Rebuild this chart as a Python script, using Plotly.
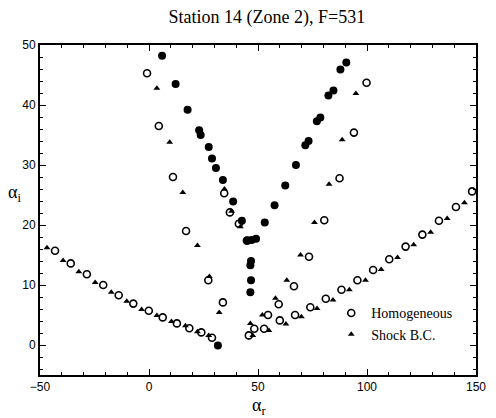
import plotly.graph_objects as go

# Homogeneous (open circles)
hom_x = [-43.1, -35.9, -28.5, -21.0, -13.9, -7.2, -0.1, 6.3, 12.8, 18.5, 24.0, 28.9,
         -0.9, 4.5, 11.0, 17.0, 27.2, 33.9,
         34.5, 37.1, 41.2, 44.9,
         45.8, 48.3, 52.8,
         54.6, 59.5, 66.5, 73.4, 80.4, 87.4, 94.0, 99.8,
         60.0, 67.0, 74.0, 81.1, 88.3, 95.6, 102.8, 110.2, 117.7, 125.4, 133.0, 140.8, 148.2]
hom_y = [15.7, 13.6, 11.8, 10.0, 8.3, 6.9, 5.7, 4.6, 3.6, 2.8, 2.1, 1.2,
         45.3, 36.5, 28.0, 19.0, 10.8, 7.1,
         25.3, 22.1, 20.2, 17.4,
         1.6, 2.7, 2.7,
         5.0, 6.8, 9.8, 14.7, 20.8, 27.8, 35.4, 43.7,
         4.1, 5.0, 6.3, 7.7, 9.2, 10.8, 12.5, 14.3, 16.4, 18.4, 20.7, 23.0, 25.6]

# Shock B.C. (filled triangles)
shk_x = [-46.8, -39.4, -32.2, -24.7, -17.3, -10.2, -3.4, 3.6, 10.3, 16.7, 22.2, 27.4,
         3.6, 9.5, 15.5, 22.2, 27.7, 32.2,
         34.6, 37.9, 41.9,
         46.5, 47.6, 55.0,
         52.0, 58.0, 63.2, 69.5, 75.9, 82.6, 88.6, 94.9,
         62.8, 69.9, 77.1, 84.4, 91.9, 99.3, 106.5, 114.0, 121.4, 129.2, 136.8, 144.7]
shk_y = [16.2, 14.1, 12.2, 10.4, 8.8, 7.3, 5.9, 4.9, 3.9, 3.2, 2.2, 1.6,
         42.8, 33.8, 25.4, 16.6, 11.4, 5.4,
         26.0, 22.3, 19.7,
         3.6, 1.6, 2.4,
         5.0, 7.8, 10.8, 15.0, 20.4, 26.8, 34.2, 41.9,
         3.5, 4.7, 6.1, 7.5, 9.2, 10.8, 12.6, 14.6, 16.7, 18.8, 21.1, 23.7]

# Third set (filled circles, not in legend)
fil_x = [6.0, 12.2, 17.7, 23.0, 23.7, 27.4, 28.9, 30.7, 33.9, 38.6, 42.6, 45.3, 47.1, 49.1,
         46.8, 46.5, 46.8, 46.5, 31.6,
         53.1, 57.6, 62.5, 67.4, 71.7, 73.2, 77.0, 78.6, 82.3, 84.6, 87.8, 90.5]
fil_y = [48.2, 43.5, 39.2, 35.8, 35.0, 33.0, 31.1, 29.5, 27.5, 23.9, 20.7, 17.4, 17.5, 17.7,
         14.0, 13.3, 10.8, 8.8, -0.1,
         20.4, 23.3, 26.6, 30.0, 33.3, 34.0, 37.3, 37.9, 41.6, 42.4, 45.9, 47.1]

x_ticks = [-50, 0, 50, 100, 150]
y_ticks = [0, 10, 20, 30, 40, 50]

SERIF = "Liberation Serif, Times New Roman"

fig = go.Figure()
fig.add_trace(go.Scatter(x=fil_x, y=fil_y, mode="markers", showlegend=False,
                         marker=dict(symbol="circle", size=8, color="black")))
fig.add_trace(go.Scatter(x=hom_x, y=hom_y, mode="markers", name="Homogeneous",
                         marker=dict(symbol="circle-open", size=7, color="black",
                                     line=dict(width=1.6, color="black"))))
fig.add_trace(go.Scatter(x=shk_x, y=shk_y, mode="markers", name="Shock B.C.",
                         marker=dict(symbol="triangle-up", size=6, color="black")))

axis_common = dict(showgrid=False, zeroline=False, showline=True, linecolor="black",
                   linewidth=2, mirror="ticks", ticks="inside", tickcolor="black",
                   ticklen=6, tickwidth=1,
                   tickfont=dict(family="Liberation Sans, Arial", size=12, color="black"))

fig.update_layout(
    width=496, height=418,
    margin=dict(l=40, r=10, t=45, b=43),
    paper_bgcolor="white", plot_bgcolor="white",
    title=dict(text="Station 14 (Zone 2), F=531", x=0.538, xanchor="center",
               y=0.96, yanchor="middle",
               font=dict(family=SERIF, size=18, color="black")),
    legend=dict(x=0.668, y=0.155, xanchor="left", yanchor="middle",
                bgcolor="rgba(0,0,0,0)",
                font=dict(family=SERIF, size=14, color="black"),
                itemwidth=30, tracegroupgap=2),
    xaxis=dict(range=[-50, 150], tickvals=x_ticks,
               minor=dict(dtick=10, ticks="inside", ticklen=3, tickcolor="black"),
               **axis_common),
    yaxis=dict(range=[-5, 50], tickvals=y_ticks,
               minor=dict(dtick=2, ticks="inside", ticklen=3, tickcolor="black"),
               **axis_common),
    annotations=[
        dict(text="α<sub>r</sub>", xref="paper", yref="paper", x=0.502, y=-0.095,
             xanchor="center", yanchor="middle", showarrow=False,
             font=dict(family=SERIF, size=18, color="black")),
        dict(text="α<sub>i</sub>", xref="paper", yref="paper", x=-0.058, y=0.55,
             xanchor="center", yanchor="middle", showarrow=False,
             font=dict(family=SERIF, size=18, color="black")),
    ],
)
fig.write_html("out.html")
